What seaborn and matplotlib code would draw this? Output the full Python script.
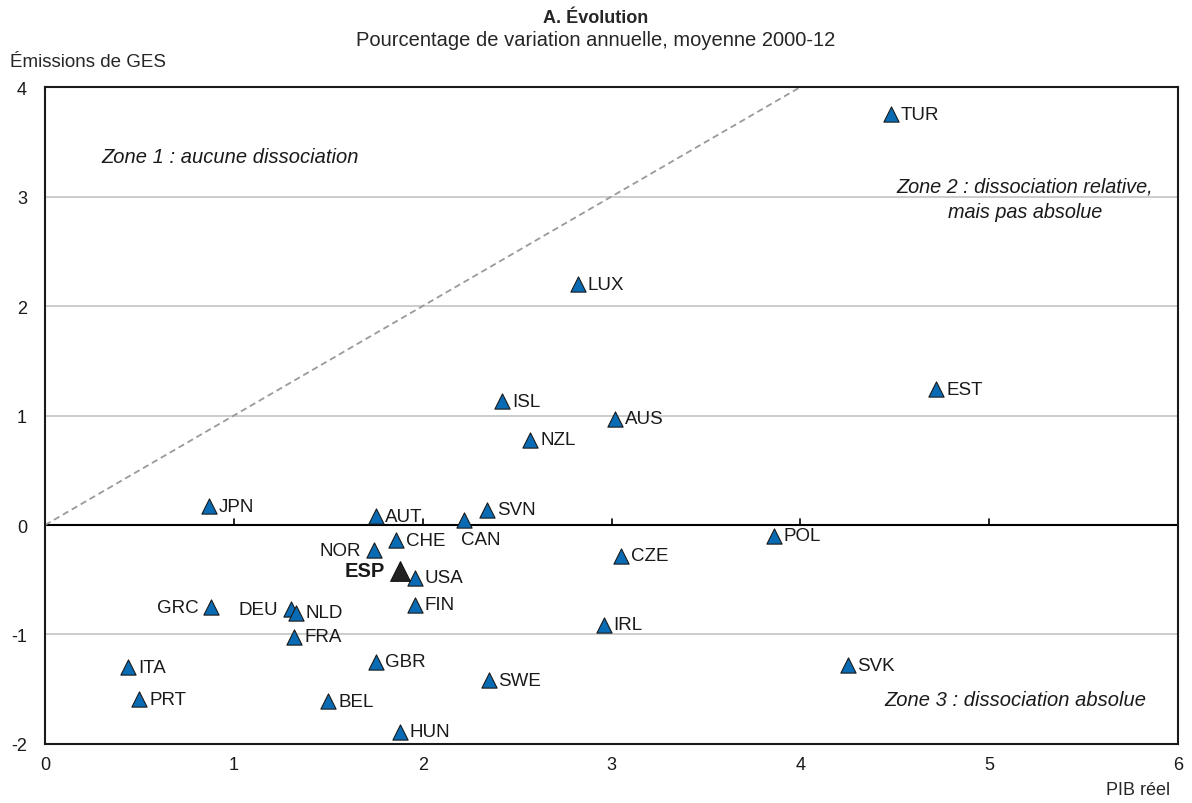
import pandas as pd
import numpy as np
import matplotlib
matplotlib.use('Agg')
import matplotlib.pyplot as plt
import seaborn as sns

# Données (PIB réel, émissions de GES)
pays = ['TUR', 'LUX', 'EST', 'ISL', 'AUS', 'NZL', 'JPN', 'AUT', 'SVN', 'CAN',
        'POL', 'NOR', 'CHE', 'ESP', 'USA', 'CZE', 'GRC', 'DEU', 'NLD', 'FIN',
        'FRA', 'IRL', 'GBR', 'ITA', 'SVK', 'SWE', 'PRT', 'BEL', 'HUN']
pib = [4.48, 2.82, 4.72, 2.42, 3.02, 2.57, 0.87, 1.75, 2.34, 2.22,
       3.86, 1.74, 1.86, 1.88, 1.96, 3.05, 0.88, 1.30, 1.33, 1.96,
       1.32, 2.96, 1.75, 0.44, 4.25, 2.35, 0.50, 1.50, 1.88]
ges = [3.75, 2.20, 1.24, 1.13, 0.97, 0.78, 0.17, 0.08, 0.14, 0.05,
       -0.10, -0.23, -0.14, -0.42, -0.48, -0.28, -0.75, -0.77, -0.80, -0.73,
       -1.02, -0.91, -1.25, -1.30, -1.28, -1.42, -1.59, -1.61, -1.89]
# position de l'étiquette : d = droite, g = gauche, b = bas
pos_label = {'NOR': 'g', 'GRC': 'g', 'DEU': 'g', 'ESP': 'g', 'CAN': 'b'}

df = pd.DataFrame({'pays': pays, 'pib': pib, 'ges': ges})
df['groupe'] = np.where(df['pays'] == 'ESP', 'ESP', 'autres')

sns.set_style('white')
plt.rcParams['font.family'] = ['Liberation Sans', 'DejaVu Sans']
plt.rcParams['axes.unicode_minus'] = False

fig = plt.figure(figsize=(11.92, 8.04), dpi=100)
ax = fig.add_axes([0.0378, 0.0734, 0.9505, 0.8171])

bleu = '#0A6BB5'
txt = '#1a1a1a'

# Grille horizontale
for yv in [-1, 1, 2, 3]:
    ax.axhline(yv, color='#c8c8c8', lw=1.3, zorder=0)
ax.axhline(0, color='black', lw=1.5, zorder=1)
for xv in range(1, 6):
    ax.plot([xv, xv], [0, 0.055], color='black', lw=1.2, zorder=1)

# Ligne y = x
xs = np.array([0, 6])
ax.plot(xs, xs, ls=(0, (3.5, 2.2)), color='#9a9a9a', lw=1.3, zorder=1)

sns.scatterplot(data=df[df['groupe'] == 'autres'], x='pib', y='ges', marker='^',
                s=120, color=bleu, edgecolor='#1a1a1a', linewidth=0.8, ax=ax,
                zorder=3, legend=False)
sns.scatterplot(data=df[df['groupe'] == 'ESP'], x='pib', y='ges', marker='^',
                s=200, color='#222222', edgecolor='#111111', linewidth=0.8, ax=ax,
                zorder=4, legend=False)

for _, r in df.iterrows():
    p = pos_label.get(r['pays'], 'd')
    bold = r['pays'] == 'ESP'
    if p == 'd':
        ax.annotate(r['pays'], (r['pib'], r['ges']), xytext=(7, 0), textcoords='offset points',
                    ha='left', va='center', fontsize=13.5, color=txt)
    elif p == 'g':
        ax.annotate(r['pays'], (r['pib'], r['ges']), xytext=(-11 if bold else -9, 0),
                    textcoords='offset points', ha='right', va='center',
                    fontsize=14.5 if bold else 13.5, fontweight='bold' if bold else 'normal',
                    color=txt)
    else:
        ax.annotate(r['pays'], (r['pib'], r['ges']), xytext=(12, -8), textcoords='offset points',
                    ha='center', va='top', fontsize=13.5, color=txt)

# Zones
ax.text(0.3, 3.37, 'Zone 1 : aucune dissociation', style='italic', fontsize=14.5,
        ha='left', va='center', color=txt)
ax.text(5.19, 2.98, 'Zone 2 : dissociation relative,\nmais pas absolue', style='italic',
        fontsize=14.3, ha='center', va='center', color=txt, linespacing=1.45)
ax.text(5.83, -1.59, 'Zone 3 : dissociation absolue', style='italic', fontsize=14.5,
        ha='right', va='center', color=txt)

ax.set_xlim(0, 6)
ax.set_ylim(-2, 4)
ax.set_xticks(range(0, 7))
ax.set_yticks(range(-2, 5))
ax.tick_params(axis='both', length=0, labelsize=13, colors=txt)
ax.tick_params(axis='x', pad=9)
ax.tick_params(axis='y', pad=13)
ax.set_xlabel('')
ax.set_ylabel('')
for s in ax.spines.values():
    s.set_visible(True)
    s.set_color(txt)
    s.set_linewidth(1.5)

fig.text(0.5, 0.977, 'A. Évolution', ha='center', va='center', fontsize=13, fontweight='bold')
fig.text(0.5, 0.950, 'Pourcentage de variation annuelle, moyenne 2000-12', ha='center',
         va='center', fontsize=14.5)
fig.text(0.008, 0.922, 'Émissions de GES', ha='left', va='center', fontsize=13.5)
fig.text(0.982, 0.017, 'PIB réel', ha='right', va='center', fontsize=13)

fig.savefig('out.png', dpi=100)
